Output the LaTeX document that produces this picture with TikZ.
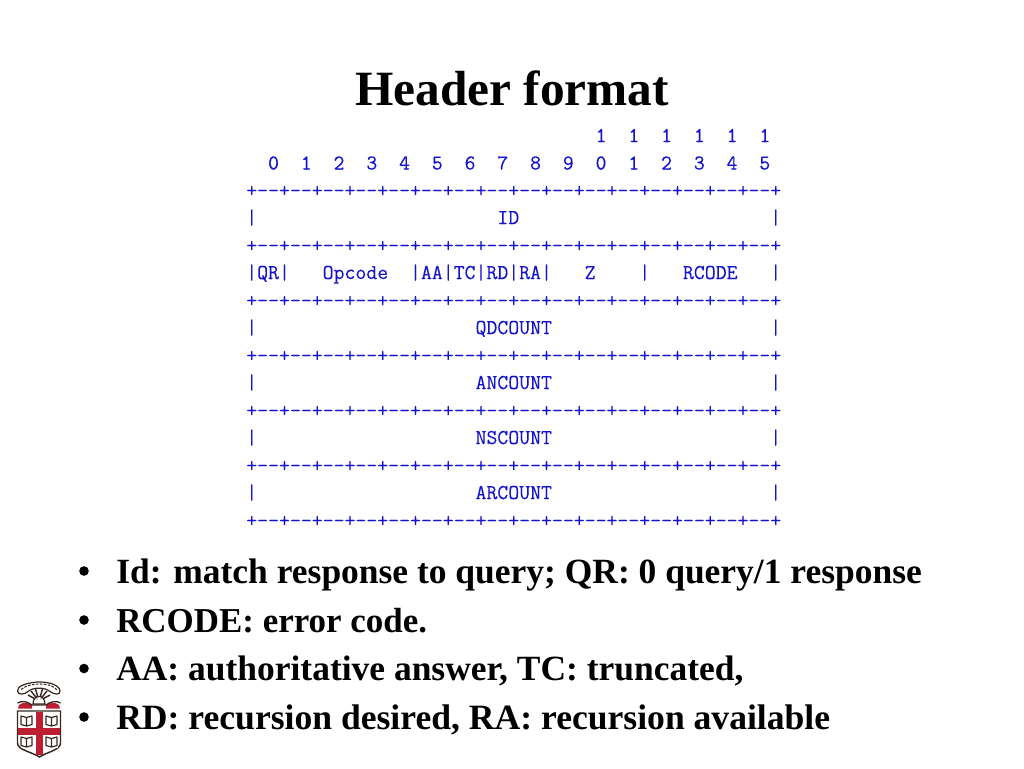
\documentclass[tikz,border=0pt]{standalone}
\usepackage{fontspec}
\setmainfont{Liberation Serif}
\newfontfamily\monof[FakeBold=0.12]{Latin Modern Mono}
\definecolor{monoblue}{RGB}{20,20,205}
\definecolor{brred}{RGB}{190,30,50}
\definecolor{brbrown}{RGB}{55,40,35}
\tikzset{
  px/.style={x=0.75pt,y=-0.75pt},
  title/.style={font=\fontsize{37}{40}\selectfont\bfseries,anchor=center,inner sep=0},
  mono/.style={font=\monof\fontsize{15.9}{16}\selectfont,text=monoblue,anchor=base west,inner sep=0},
  bul/.style={font=\fontsize{26.6}{30}\selectfont\bfseries,anchor=base west,inner sep=0},
  dotm/.style={circle,fill=black,inner sep=0,minimum size=7.2pt},
  ink/.style={draw=brbrown,line width=0.9pt,fill=white}
}
\newcommand{\rulerow}{+{-}{-}+{-}{-}+{-}{-}+{-}{-}+{-}{-}+{-}{-}+{-}{-}+{-}{-}+{-}{-}+{-}{-}+{-}{-}+{-}{-}+{-}{-}+{-}{-}+{-}{-}+{-}{-}+}
\newcommand{\lbook}[2]{%
  \fill[white] (#1-6,#2-6) rectangle (#1+6,#2+6);
  \draw[brbrown,line width=0.9pt,line join=round] (#1,#2-3.5) -- (#1-5.5,#2-5) -- (#1-5.5,#2+3.5) -- (#1,#2+5) -- (#1+5.5,#2+3.5) -- (#1+5.5,#2-5) -- (#1,#2-3.5) -- (#1,#2+5);
}
\begin{document}
\begin{tikzpicture}[px]
\useasboundingbox (0,0) rectangle (1024,768);
\fill[white] (0,0) rectangle (1024,768);
\node[title] (t) at (512,88) {Header format};
\node[mono] (l1) at (246,142) {~~~~~~~~~~~~~~~~~~~~~~~~~~~~~~~~1~~1~~1~~1~~1~~1};
\node[mono] (l2) at (246,169.5) {~~0~~1~~2~~3~~4~~5~~6~~7~~8~~9~~0~~1~~2~~3~~4~~5};
\node[mono] (r1) at (246,197) {\rulerow};
\node[mono] (l3) at (246,224) {|~~~~~~~~~~~~~~~~~~~~~~ID~~~~~~~~~~~~~~~~~~~~~~~|};
\node[mono] (r2) at (246,252) {\rulerow};
\node[mono] (l4) at (246,279) {|QR|~~~Opcode~~|AA|TC|RD|RA|~~~Z~~~~|~~~RCODE~~~|};
\node[mono] (r3) at (246,307) {\rulerow};
\node[mono] (l5) at (246,334) {|~~~~~~~~~~~~~~~~~~~~QDCOUNT~~~~~~~~~~~~~~~~~~~~|};
\node[mono] (r4) at (246,362) {\rulerow};
\node[mono] (l6) at (246,389) {|~~~~~~~~~~~~~~~~~~~~ANCOUNT~~~~~~~~~~~~~~~~~~~~|};
\node[mono] (r5) at (246,417) {\rulerow};
\node[mono] (l7) at (246,444) {|~~~~~~~~~~~~~~~~~~~~NSCOUNT~~~~~~~~~~~~~~~~~~~~|};
\node[mono] (r6) at (246,472) {\rulerow};
\node[mono] (l8) at (246,499) {|~~~~~~~~~~~~~~~~~~~~ARCOUNT~~~~~~~~~~~~~~~~~~~~|};
\node[mono] (r7) at (246,527) {\rulerow};
\node[dotm] (d1) at (84,571) {};
\node[dotm] (d2) at (84,620) {};
\node[dotm] (d3) at (84,668.5) {};
\node[dotm] (d4) at (84,717) {};
\node[bul] (b1) at (116,583) {Id: match response to query; QR: 0 query/1 response};
\node[bul,font=\fontsize{26.2}{30}\selectfont\bfseries] (b2) at (116,632) {RCODE: error code.};
\node[bul] (b3) at (116,680) {AA: authoritative answer, TC: truncated,};
\node[bul,font=\fontsize{26.7}{30}\selectfont\bfseries] (b4) at (116,729) {RD: recursion desired, RA: recursion available};
% Logo
\draw[brbrown,line width=1.1pt,fill=white] (17.5,711) -- (60.5,711) -- (60.5,743) .. controls (60.5,750) and (47,752) .. (39.5,757) .. controls (32,752) and (17.5,750) .. (17.5,743) -- cycle;
\lbook{26.5}{721}
\lbook{51.5}{721}
\lbook{26.5}{742}
\lbook{51.5}{742}
\fill[brred] (36,711.5) rectangle (43,754.5);
\fill[brred] (18,728) rectangle (60,734.5);
\draw[ink] (17.5,691) .. controls (17,686) and (26,683.5) .. (33,682.5) .. controls (44,680.5) and (60,684) .. (60,691) .. controls (60,695) and (55,695) .. (50,691.5) .. controls (45,687) and (33,687) .. (28,691.5) .. controls (24,695) and (18,695) .. (17.5,691) -- cycle;
\draw[brbrown,line width=0.8pt,dash pattern=on 2pt off 1pt] (21,689.5) .. controls (26,685) and (34,684) .. (40,684) .. controls (48,684) and (54,686) .. (57,690);
\draw[brbrown,line width=1.1pt] (39,701) -- (28,695) (39,701) -- (31,691) (39,701) -- (35.5,689) (39,701) -- (42.5,689) (39,701) -- (47,691) (39,701) -- (50,695);
\draw[ink] (33,704) .. controls (33,694) and (45,694) .. (45,704) -- cycle;
\fill[brbrown] (37,699) circle (0.6) (41,699) circle (0.6);
\fill[brred] (19,705) .. controls (23,701.5) and (29,703) .. (32,705) -- (32,708.5) -- (18,708.5) -- cycle;
\fill[brred] (59,705) .. controls (55,701.5) and (49,703) .. (46,705) -- (46,708.5) -- (60,708.5) -- cycle;
\draw[brbrown,line width=1pt] (17.5,703) .. controls (22,700) and (28,702) .. (32,705) -- (46,705) .. controls (50,702) and (56,700) .. (60.5,703);
\end{tikzpicture}
\end{document}
